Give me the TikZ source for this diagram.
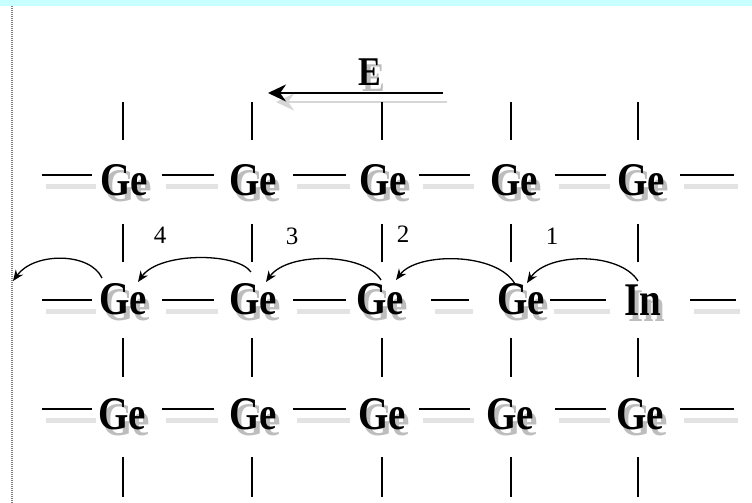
\documentclass[tikz,border=0pt]{standalone}
\usepackage{fontspec}
\setmainfont{Liberation Serif}
\usetikzlibrary{arrows.meta}
\definecolor{topband}{RGB}{200,255,255}
\newcommand{\shtxt}[1]{\scalebox{1}[1.2]{\rlap{\smash{\raisebox{-5pt}{\hspace{4pt}\textcolor{black!26}{#1}}}}#1}}
\begin{document}
\begin{tikzpicture}[x=1pt,y=-1pt,
  atom/.style={inner sep=0pt, font=\fontsize{39}{40}\selectfont\bfseries},
  efont/.style={inner sep=0pt, font=\fontsize{34}{36}\selectfont\bfseries},
  lbl/.style={inner sep=0pt, font=\fontsize{25}{26}\selectfont},
  bond/.style={line width=1.8pt, black},
  bondsh/.style={line width=5pt, black!11},
  hop/.style={line width=1.3pt, -{Stealth[length=11pt,width=9pt]}},
  field/.style={line width=2.6pt, -{Stealth[length=18pt,width=17pt]}},
]
\useasboundingbox (0,0) rectangle (752,503);
\fill[white] (0,0) rectangle (752,503);
\fill[topband] (0,0) rectangle (752,6);
\draw[gray, line width=1.3pt, dash pattern=on 1pt off 1pt] (12,6) -- (12,503);

% field E with its shadow
\node[efont] (E) at (370,72) {\shtxt{E}};
\coordinate (eSs) at (447,102);
\coordinate (eEs) at (276,102);
\draw[field, black!16] (eSs) -- (eEs);
\coordinate (eS) at (443,93);
\coordinate (eE) at (268,93);
\draw[field] (eS) -- (eE);

% vertical bonds
\foreach \x in {123,252,382,511,638}{
  \foreach \a/\b in {102/140, 224/262, 338/377, 457/497}{
    \draw[bond] (\x,\a) -- (\x,\b);
  }
}

% horizontal bonds, rows 1 and 3
\foreach \yy in {175,409}{
  \foreach \a/\b in {42/92, 162/214, 293/346, 419/470, 555/606, 680/734}{
    \draw[bondsh] (\a+4,\yy+11) -- (\b+4,\yy+11);
    \draw[bond] (\a,\yy) -- (\b,\yy);
  }
}
% row 2
\foreach \a/\b in {42/92, 162/214, 293/346, 431/469, 550/606, 690/736}{
  \draw[bondsh] (\a+4,311) -- (\b+4,311);
  \draw[bond] (\a,300) -- (\b,300);
}

% atoms row 1
\node[atom] (a11) at (124,180) {\shtxt{Ge}};
\node[atom] (a12) at (253,180) {\shtxt{Ge}};
\node[atom] (a13) at (383,180) {\shtxt{Ge}};
\node[atom] (a14) at (514,180) {\shtxt{Ge}};
\node[atom] (a15) at (641,180) {\shtxt{Ge}};
% atoms row 2
\node[atom] (a21) at (123,299) {\shtxt{Ge}};
\node[atom] (a22) at (253,299) {\shtxt{Ge}};
\node[atom] (a23) at (380,299) {\shtxt{Ge}};
\node[atom] (a24) at (521,299) {\shtxt{Ge}};
\node[atom] (a25) at (643,300) {\shtxt{In}};
% atoms row 3
\node[atom] (a31) at (122,414) {\shtxt{Ge}};
\node[atom] (a32) at (253,414) {\shtxt{Ge}};
\node[atom] (a33) at (382,414) {\shtxt{Ge}};
\node[atom] (a34) at (510,414) {\shtxt{Ge}};
\node[atom] (a35) at (640,414) {\shtxt{Ge}};

% labels
\node[lbl] (n4) at (160,235) {4};
\node[lbl] (n3) at (292,236) {3};
\node[lbl] (n2) at (403,234) {2};
\node[lbl] (n1) at (552,236) {1};

% hopping arrows
\coordinate (s1) at (638,281); \coordinate (t1) at (527,283);
\coordinate (s2) at (515,284); \coordinate (t2) at (396,280);
\coordinate (s3) at (381,280); \coordinate (t3) at (266,282);
\coordinate (s4) at (251,272); \coordinate (t4) at (138,282);
\coordinate (s5) at (102,278); \coordinate (t5) at (13,281);
\draw[hop] (s1) .. controls (620,252) and (548,252) .. (t1);
\draw[hop] (s2) .. controls (497,252) and (417,252) .. (t2);
\draw[hop] (s3) .. controls (364,252) and (287,252) .. (t3);
\draw[hop] (s4) .. controls (237,252) and (159,252) .. (t4);
\draw[hop] (s5) .. controls (90,252) and (34,252) .. (t5);
\end{tikzpicture}
\end{document}
